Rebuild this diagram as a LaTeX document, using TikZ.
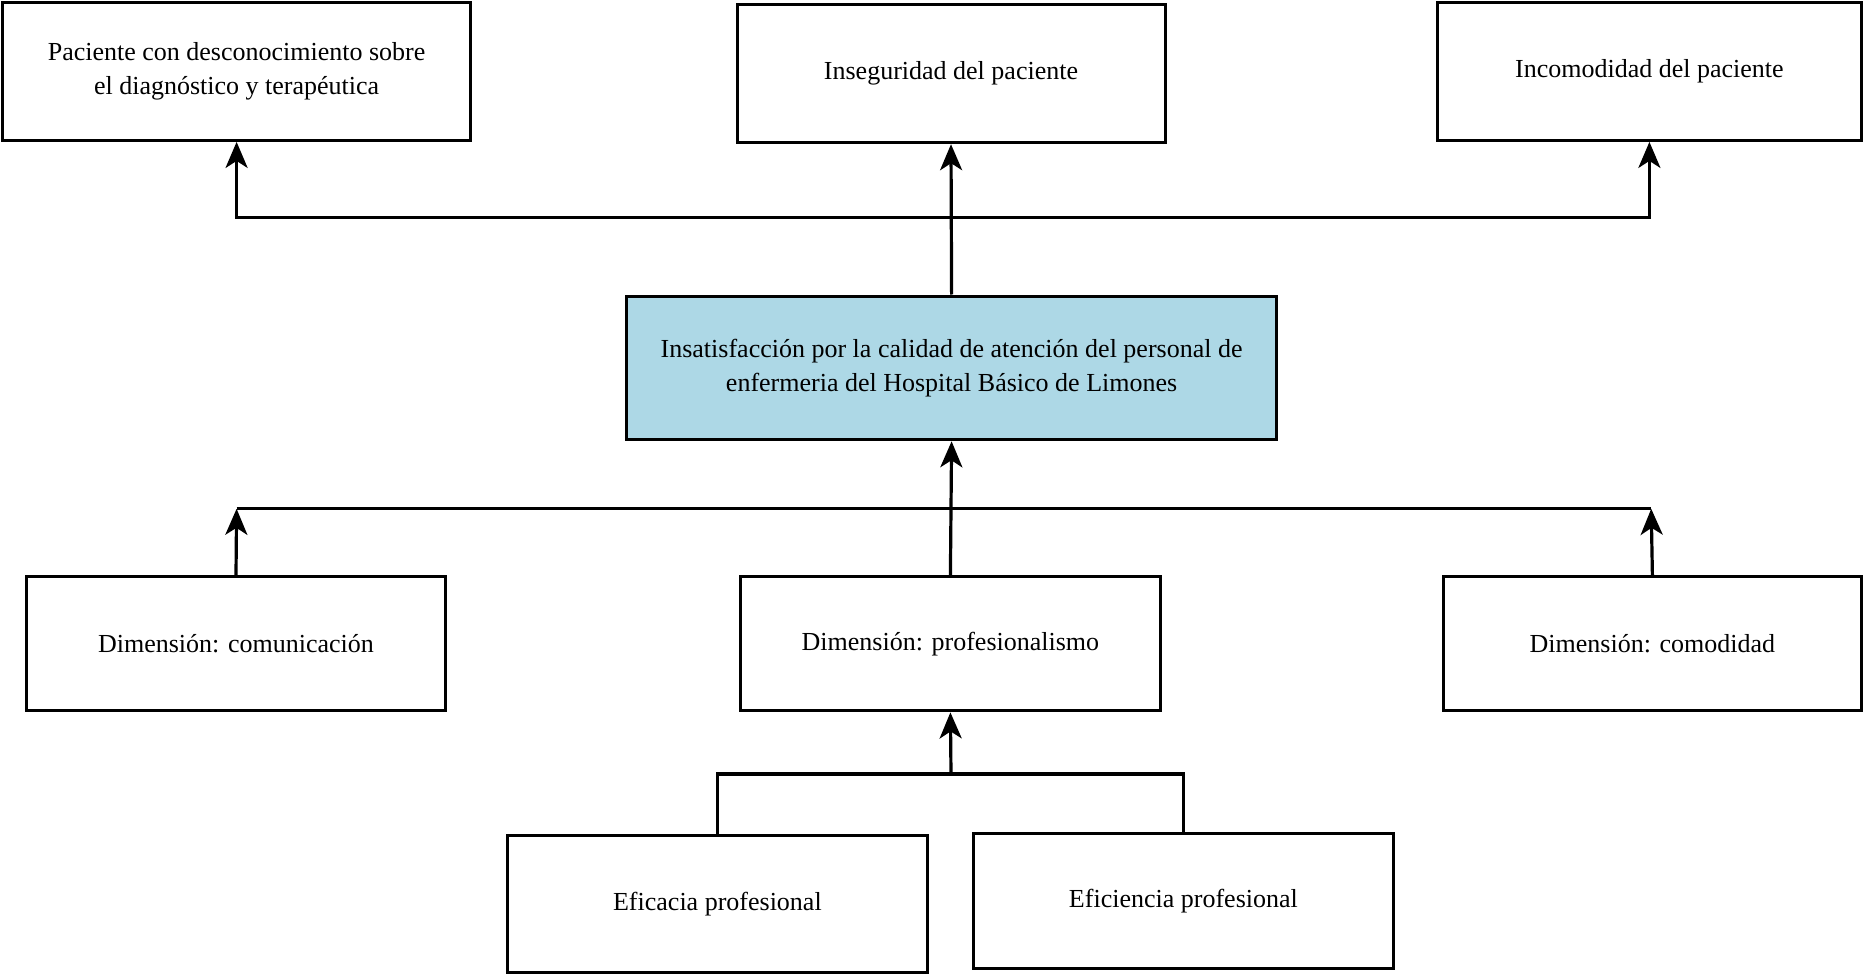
\documentclass[tikz,border=0pt]{standalone}
\usepackage{fontspec}
\setmainfont{Liberation Serif}
\usetikzlibrary{arrows.meta}
\definecolor{boxblue}{RGB}{173,216,230}
\tikzset{
  box/.style={draw=black, line width=1.5pt, fill=white, align=center, font=\fontsize{13}{17}\selectfont, inner sep=2pt},
  arr/.style={line width=1.6pt, -{Stealth[length=13pt,width=11pt,inset=3.5pt]}},
  ln/.style={line width=1.6pt}
}
\begin{document}
\begin{tikzpicture}[x=0.5pt,y=-0.5pt]
\useasboundingbox (0,0) rectangle (1864,974);
% top row
\node[box, minimum width=234pt, minimum height=69pt] (B1) at (236.6,71.4) {Paciente con desconocimiento sobre\\el diagnóstico y terapéutica};
\node[box, minimum width=214pt, minimum height=69pt] (B2) at (951,73.7) {Inseguridad del paciente};
\node[box, minimum width=212.2pt, minimum height=69pt] (B3) at (1649.4,71.4) {Incomodidad del paciente};
% center
\node[box, fill=boxblue, minimum width=325pt, minimum height=71.9pt] (C) at (951.6,367.9) {Insatisfacción por la calidad de atención del personal de\\enfermeria del Hospital Básico de Limones};
% dimension row
\node[box, minimum width=209.8pt, minimum height=67.2pt] (D1) at (236,643.7) {Dimensión: comunicación};
\node[box, minimum width=209.8pt, minimum height=67.2pt] (D2) at (950.4,643.7) {Dimensión: profesionalismo};
\node[box, minimum width=209.2pt, minimum height=67.2pt] (D3) at (1652.4,643.7) {Dimensión: comodidad};
% bottom row
\node[box, minimum width=209.8pt, minimum height=68.3pt] (E1) at (717.4,904) {Eficacia profesional};
\node[box, minimum width=209.8pt, minimum height=67.8pt] (E2) at (1183.4,901.1) {Eficiencia profesional};
% junctions
\coordinate (tj) at (951,217.5);
\coordinate (ml) at (236.6,508.8);
\coordinate (mr) at (1651.2,508.8);
\coordinate (bj) at (951,773.9);
% top connectors
\draw[arr] (C.north) -- (B2.south);
\draw[arr] (tj) -| (B1.south);
\draw[arr] (tj) -| (B3.south);
% middle connectors
\draw[ln] (ml) -- (mr);
\draw[arr] (D2.north) -- (C.south);
\draw[arr] (D1.north) -- (ml);
\draw[arr] (D3.north) -- (mr);
% bottom connectors
\draw[ln] (E1.north) |- (bj);
\draw[ln] (E2.north) |- (bj);
\draw[arr] (bj) -- (D2.south);
\end{tikzpicture}
\end{document}
